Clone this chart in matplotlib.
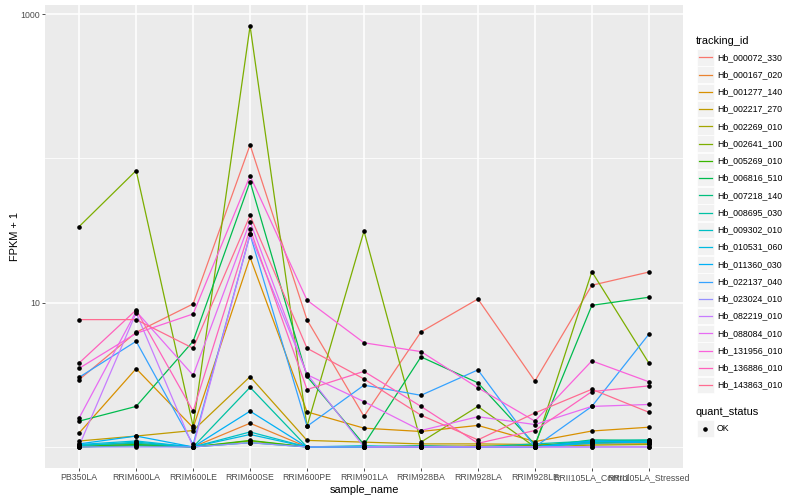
import matplotlib
matplotlib.use("Agg")
import matplotlib.pyplot as plt
import numpy as np
from matplotlib.patches import Rectangle
from matplotlib.ticker import NullFormatter

plt.rcParams['font.family'] = ['Liberation Sans', 'DejaVu Sans']

# categorias del eje x
samples = ["PB350LA", "RRIM600LA", "RRIM600LE", "RRIM600SE", "RRIM600PE",
           "RRIM901LA", "RRIM928BA", "RRIM928LA", "RRIM928LE",
           "RRII105LA_Control", "RRII105LA_Stressed"]

tracking_ids = ["Hb_000072_330", "Hb_000167_020", "Hb_001277_140", "Hb_002217_270",
                "Hb_002269_010", "Hb_002641_100", "Hb_005269_010", "Hb_006816_510",
                "Hb_007218_140", "Hb_008695_030", "Hb_009302_010", "Hb_010531_060",
                "Hb_011360_030", "Hb_022137_040", "Hb_023024_010", "Hb_082219_010",
                "Hb_088084_010", "Hb_131956_010", "Hb_136886_010", "Hb_143863_010"]

# paleta hue de ggplot para 20 niveles
colors = ["#F8766D", "#EA8331", "#D89000", "#C09B00", "#A3A500", "#7CAE00",
          "#39B600", "#00BB4E", "#00BF7D", "#00C1A3", "#00BFC4", "#00BAE0",
          "#00B0F6", "#35A2FF", "#9590FF", "#C77CFF", "#E76BF3", "#FA62DB",
          "#FF62BC", "#FF6C91"]

hb_000072_330 = [2.93, 6.23, 9.8, 124, 7.6, 1.63, 6.27, 10.6, 2.86, 13.2, 16.3]
hb_000167_020 = [1.02, 1.05, 1.0, 1.46, 1.0, 1.0, 1.02, 1.0, 1.03, 1.05, 1.05]
hb_001277_140 = [1.25, 3.49, 1.36, 20.6, 1.75, 1.35, 1.28, 1.41, 1.09, 1.29, 1.37]
hb_002217_270 = [1.1, 1.19, 1.3, 3.07, 1.11, 1.08, 1.05, 1.05, 1.04, 1.06, 1.1]
hb_002269_010 = [1.0, 1.03, 1.0, 1.1, 1.0, 1.0, 1.0, 1.02, 1.0, 1.03, 1.04]
hb_002641_100 = [33.7, 82.3, 1.39, 826, 1.39, 31.3, 1.08, 1.91, 1.0, 16.4, 3.82]
hb_005269_010 = [1.01, 1.04, 1.0, 1.11, 1.0, 1.0, 1.0, 1.0, 1.02, 1.08, 1.07]
hb_006816_510 = [1.51, 1.91, 5.4, 69, 3.08, 1.04, 4.21, 2.78, 1.04, 9.58, 10.9]
hb_007218_140 = [1.0, 1.02, 1.0, 1.07, 1.0, 1.0, 1.0, 1.0, 1.0, 1.12, 1.11]
hb_008695_030 = [1.03, 1.06, 1.0, 2.59, 1.0, 1.0, 1.02, 1.0, 1.05, 1.1, 1.12]
hb_009302_010 = [1.02, 1.08, 1.0, 1.27, 1.0, 1.02, 1.0, 1.0, 1.0, 1.08, 1.1]
hb_010531_060 = [1.04, 1.1, 1.0, 1.22, 1.0, 1.0, 1.0, 1.0, 1.0, 1.06, 1.08]
hb_011360_030 = [1.05, 1.19, 1.0, 1.77, 1.0, 1.0, 1.0, 1.0, 1.0, 1.1, 1.08]
hb_022137_040 = [3.04, 5.4, 1.04, 29.7, 1.39, 2.68, 2.28, 3.42, 1.0, 1.91, 6.04]
hb_023024_010 = [1.0, 1.0, 1.0, 1.07, 1.0, 1.0, 1.0, 1.0, 1.0, 1.0, 1.0]
hb_082219_010 = [1.02, 8.5, 1.0, 29.7, 3.2, 1.0, 1.0, 1.0, 1.0, 1.0, 1.0]
hb_088084_010 = [1.59, 8.7, 3.14, 36.5, 3.17, 2.06, 1.3, 1.62, 1.43, 1.91, 1.97]
hb_131956_010 = [3.51, 6.13, 8.35, 75.7, 10.4, 5.27, 4.58, 2.57, 1.51, 3.95, 2.83]
hb_136886_010 = [3.82, 8.9, 1.77, 32.5, 2.5, 3.34, 1.91, 1.06, 1.3, 2.42, 2.65]
hb_143863_010 = [7.63, 7.63, 4.83, 40.2, 4.83, 2.96, 1.66, 1.12, 1.72, 2.51, 1.74]

series = [hb_000072_330, hb_000167_020, hb_001277_140, hb_002217_270,
          hb_002269_010, hb_002641_100, hb_005269_010, hb_006816_510,
          hb_007218_140, hb_008695_030, hb_009302_010, hb_010531_060,
          hb_011360_030, hb_022137_040, hb_023024_010, hb_082219_010,
          hb_088084_010, hb_131956_010, hb_136886_010, hb_143863_010]

W, H = 800, 500
fig = plt.figure(figsize=(W / 100, H / 100), dpi=100)

# panel principal (coordenadas en pixeles)
ax = fig.add_axes([45 / W, 1 - 468 / H, (683 - 45) / W, (468 - 5) / H])
ax.set_facecolor("#EBEBEB")
x = np.arange(len(samples))
for vals, col in zip(series, colors):
    ax.plot(x, vals, color=col, lw=0.9, zorder=3)
for vals in series:
    ax.plot(x, vals, ls='none', marker='o', color='black', ms=2.3, zorder=4)

ax.set_yscale('log')
allv = np.concatenate([np.array(v, dtype=float) for v in series])
lo, hi = np.log10(allv.min()), np.log10(allv.max())
pad = (hi - lo) * 0.05
ax.set_ylim(10 ** (lo - pad), 10 ** (hi + pad))
ax.set_xlim(-0.6, len(samples) - 1 + 0.6)

ax.set_xticks(x, samples)
ax.set_yticks([10, 1000], ['10', '1000'])
ax.set_yticks([1, 100], minor=True)
ax.yaxis.set_minor_formatter(NullFormatter())
ax.grid(which='major', color='white', lw=1.1)
ax.grid(which='minor', axis='y', color='white', lw=0.55)
ax.set_axisbelow(True)
for s in ax.spines.values():
    s.set_visible(False)
ax.tick_params(which='major', color='#333333', length=2.0, width=0.6,
               labelsize=6.3, labelcolor='#4D4D4D', pad=1.6)
ax.tick_params(which='minor', length=0)
ax.set_xlabel("sample_name", fontsize=7.9, labelpad=2)
ax.set_ylabel("FPKM + 1", fontsize=7.9, labelpad=0)

# leyenda dibujada a mano, estilo ggplot
lax = fig.add_axes([0, 0, 1, 1])
lax.set_xlim(0, W)
lax.set_ylim(H, 0)
lax.axis('off')

lax.text(696, 41, "tracking_id", fontsize=7.9, va='center', ha='left')
y0, step = 57.3, 17.25
for i, (name, col) in enumerate(zip(tracking_ids, colors)):
    yc = y0 + i * step
    lax.add_patch(Rectangle((697, yc - 8.3), 16.6, 16.6, facecolor='#F2F2F2',
                            edgecolor='white', lw=0.5))
    lax.plot([698.5, 711.5], [yc, yc], color=col, lw=0.9)
    lax.text(717, yc, name, fontsize=6.3, va='center', ha='left')

lax.text(696, 412, "quant_status", fontsize=7.9, va='center', ha='left')
lax.add_patch(Rectangle((697, 428.7 - 8.3), 16.6, 16.6, facecolor='#F2F2F2',
                        edgecolor='white', lw=0.5))
lax.plot([705.3], [428.7], marker='o', color='black', ms=2.3)
lax.text(717, 428.7, "OK", fontsize=6.3, va='center', ha='left')

fig.savefig("out.png", dpi=100, facecolor='white')
